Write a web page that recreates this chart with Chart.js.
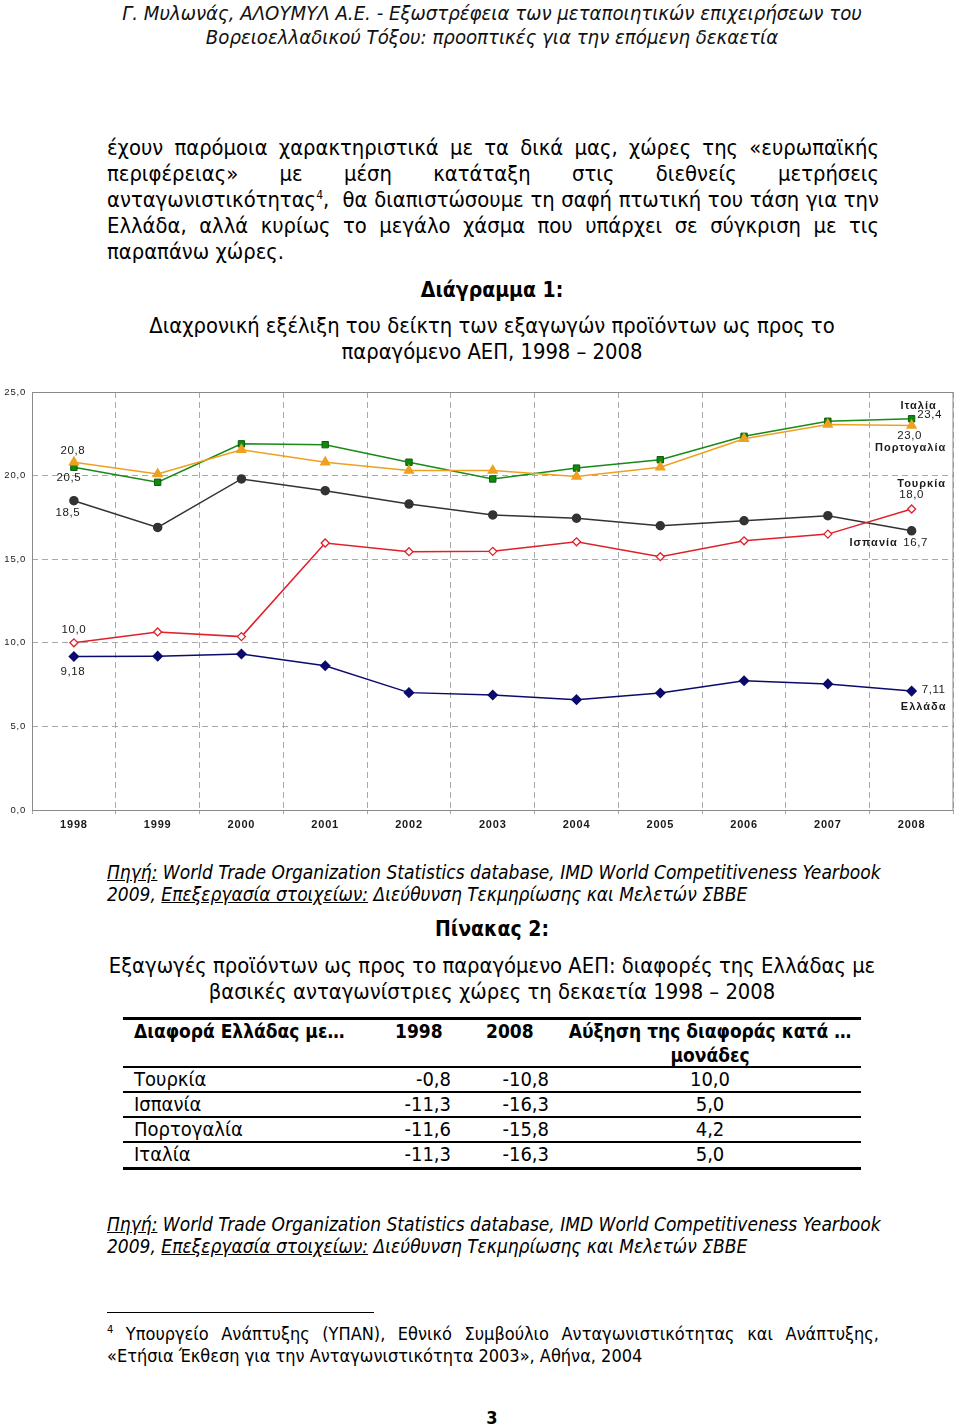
<!DOCTYPE html>
<html>
<head>
<meta charset="utf-8">
<script src="https://cdn.jsdelivr.net/npm/chart.js@4.4.0/dist/chart.umd.min.js"></script>
<style>
  html, body { margin:0; padding:0; background:#fff; }
  body { width:960px; height:1428px; position:relative; overflow:hidden;
         font-family:"DejaVu Sans Condensed","DejaVu Sans",sans-serif; color:#000; }
  .ab { position:absolute; white-space:nowrap; }
  .hdr { font-style:italic; font-size:20.2px; line-height:24px; color:#111; left:0; width:984px; text-align:center; }
  .p { left:107px; width:772px; font-size:21.8px; line-height:26px; }
  .j { text-align:justify; text-align-last:justify; }
  .c { left:0; width:984px; text-align:center; font-size:21.8px; line-height:26px; }
  .b { font-weight:bold; font-size:21px; }
  .src { left:107px; font-style:italic; font-size:19px; line-height:22px; }
  .u { text-decoration:underline; }
  .tl { position:absolute; background:#000; }
  .td { position:absolute; font-size:20px; line-height:24px; white-space:nowrap; }
  .th { font-weight:bold; font-size:19px; }
  .fn { left:107px; width:772px; font-size:18px; line-height:22px; }
  #chartBox { position:absolute; left:0; top:380px; width:960px; height:460px; }
</style>
</head>
<body>
<div class="ab hdr" style="top:1px;">Γ. Μυλωνάς, ΑΛΟΥΜΥΛ Α.Ε. - Εξωστρέφεια των μεταποιητικών επιχειρήσεων του</div>
<div class="ab hdr" style="top:25px;">Βορειοελλαδικού Τόξου: προοπτικές για την επόμενη δεκαετία</div>

<div class="ab p j" style="top:135px;">έχουν παρόμοια χαρακτηριστικά με τα δικά μας, χώρες της «ευρωπαϊκής</div>
<div class="ab p j" style="top:161px;">περιφέρειας» με μέση κατάταξη στις διεθνείς μετρήσεις</div>
<div class="ab p j" style="top:187px;">ανταγωνιστικότητας<sup style="font-size:12px;line-height:0">4</sup>,&nbsp; θα διαπιστώσουμε τη σαφή πτωτική του τάση για την</div>
<div class="ab p j" style="top:213px;">Ελλάδα, αλλά κυρίως το μεγάλο χάσμα που υπάρχει σε σύγκριση με τις</div>
<div class="ab p" style="top:239px;">παραπάνω χώρες.</div>

<div class="ab c b" style="top:277px;">Διάγραμμα 1:</div>
<div class="ab c" style="top:313px;">Διαχρονική εξέλιξη του δείκτη των εξαγωγών προϊόντων ως προς το</div>
<div class="ab c" style="top:339px;">παραγόμενο ΑΕΠ, 1998 – 2008</div>

<div id="chartBox"><canvas id="chart" width="960" height="460"></canvas></div>

<div class="ab src" style="top:861px;"><span class="u">Πηγή:</span> World Trade Organization Statistics database, IMD World Competitiveness Yearbook</div>
<div class="ab src" style="top:883px;">2009, <span class="u">Επεξεργασία στοιχείων:</span> Διεύθυνση Τεκμηρίωσης και Μελετών ΣΒΒΕ</div>

<div class="ab c b" style="top:916px;">Πίνακας 2:</div>
<div class="ab c" style="top:953px;">Εξαγωγές προϊόντων ως προς το παραγόμενο ΑΕΠ: διαφορές της Ελλάδας με</div>
<div class="ab c" style="top:979px;">βασικές ανταγωνίστριες χώρες τη δεκαετία 1998 – 2008</div>

<!-- table -->
<div class="tl" style="left:123px;top:1017px;width:738px;height:3px;"></div>
<div class="td th" style="left:134px;top:1019px;">Διαφορά Ελλάδας με…</div>
<div class="td th" style="left:395px;top:1019px;">1998</div>
<div class="td th" style="left:486px;top:1019px;">2008</div>
<div class="td th" style="left:565px;top:1019px;width:290px;text-align:center;">Αύξηση της διαφοράς κατά …</div>
<div class="td th" style="left:565px;top:1043px;width:290px;text-align:center;">μονάδες</div>
<div class="tl" style="left:123px;top:1066px;width:738px;height:2px;"></div>
<div id="tbody"></div>
<div class="tl" style="left:123px;top:1167px;width:738px;height:3px;"></div>

<div class="ab src" style="top:1213px;"><span class="u">Πηγή:</span> World Trade Organization Statistics database, IMD World Competitiveness Yearbook</div>
<div class="ab src" style="top:1235px;">2009, <span class="u">Επεξεργασία στοιχείων:</span> Διεύθυνση Τεκμηρίωσης και Μελετών ΣΒΒΕ</div>

<div class="tl" style="left:107px;top:1312px;width:267px;height:1px;"></div>
<div class="ab fn j" style="top:1323px;"><sup style="font-size:11px;line-height:0">4</sup> Υπουργείο Ανάπτυξης (ΥΠΑΝ), Εθνικό Συμβούλιο Ανταγωνιστικότητας και Ανάπτυξης,</div>
<div class="ab fn" style="top:1345px;">«Ετήσια Έκθεση για την Ανταγωνιστικότητα 2003», Αθήνα, 2004</div>

<div class="ab c b" style="top:1405px;font-size:18px;">3</div>

<script>
// ---------- chart data ----------
const years = ['1998','1999','2000','2001','2002','2003','2004','2005','2006','2007','2008'];
const italy    = [20.5, 19.6, 21.9, 21.85, 20.8, 19.8, 20.45, 20.95, 22.35, 23.25, 23.4];
const portugal = [20.8, 20.1, 21.55, 20.8, 20.3, 20.3, 19.95, 20.5, 22.2, 23.05, 23.0];
const spain    = [18.5, 16.9, 19.8, 19.1, 18.3, 17.65, 17.45, 17.0, 17.3, 17.6, 16.7];
const turkey   = [10.0, 10.65, 10.37, 15.97, 15.45, 15.47, 16.04, 15.15, 16.1, 16.5, 18.0];
const greece   = [9.18, 9.2, 9.33, 8.63, 7.02, 6.88, 6.6, 7.0, 7.73, 7.54, 7.11];
const yTickValues = [0, 5, 10, 15, 20, 25];

// ---------- table data ----------
const tableCountries = ['Τουρκία','Ισπανία','Πορτογαλία','Ιταλία'];
const diff1998 = ['-0,8','-11,3','-11,6','-11,3'];
const diff2008 = ['-10,8','-16,3','-15,8','-16,3'];
const diffIncrease = ['10,0','5,0','4,2','5,0'];

(function buildTable(){
  const tb = document.getElementById('tbody');
  const rowTops = [1067, 1092, 1117, 1142];
  let html = '';
  tableCountries.forEach((c, i) => {
    const t = rowTops[i];
    html += `<div class="td" style="left:134px;top:${t}px;">${c}</div>`;
    html += `<div class="td" style="left:380px;top:${t}px;width:71px;text-align:right;">${diff1998[i]}</div>`;
    html += `<div class="td" style="left:470px;top:${t}px;width:79px;text-align:right;">${diff2008[i]}</div>`;
    html += `<div class="td" style="left:565px;top:${t}px;width:290px;text-align:center;">${diffIncrease[i]}</div>`;
    if (i < tableCountries.length - 1)
      html += `<div class="tl" style="left:123px;top:${t+24}px;width:738px;height:2px;"></div>`;
  });
  tb.innerHTML = html;
})();

// ---------- labels next to points ----------
const fmt = v => v.toFixed(1).replace('.', ',');
const pointLabels = [
  {ds:3, i:0, dx:-1, dy:-11, text:'20,8'},
  {ds:4, i:0, dx:-5, dy:11, text:'20,5'},
  {ds:2, i:0, dx:-6, dy:12, text:'18,5'},
  {ds:1, i:0, dx:0, dy:-13, text:'10,0'},
  {ds:0, i:0, dx:-1, dy:15, text:'9,18'},
  {ds:4, i:10, dx:7, dy:-13, text:'Ιταλία', bold:true},
  {ds:4, i:10, dx:18, dy:-4, text:'23,4'},
  {ds:3, i:10, dx:-2, dy:10, text:'23,0'},
  {ds:3, i:10, dx:-1, dy:23, text:'Πορτογαλία', bold:true},
  {ds:1, i:10, dx:10, dy:-25, text:'Τουρκία', bold:true},
  {ds:1, i:10, dx:0, dy:-14, text:'18,0'},
  {ds:2, i:10, dx:-38, dy:12, text:'Ισπανία', bold:true},
  {ds:2, i:10, dx:4, dy:12, text:'16,7'},
  {ds:0, i:10, dx:22, dy:-1, text:'7,11'},
  {ds:0, i:10, dx:12, dy:16, text:'Ελλάδα', bold:true}
];

const labelPlugin = {
  id: 'pointLabels',
  afterDatasetsDraw(chart) {
    const ctx = chart.ctx;
    ctx.save();
    ctx.fillStyle = '#1a1a1a';
    ctx.textAlign = 'center';
    ctx.textBaseline = 'middle';
    pointLabels.forEach(l => {
      const pt = chart.getDatasetMeta(l.ds).data[l.i];
      ctx.font = (l.bold ? 'bold 11px' : '11.5px') + ' "Liberation Sans", Arial, sans-serif';
      ctx.letterSpacing = l.bold ? '1px' : '0.6px';
      ctx.fillText(l.text, pt.x + l.dx, pt.y + l.dy);
    });
    ctx.restore();
  }
};

const framePlugin = {
  id: 'frame',
  beforeDraw(chart) { chart.ctx.letterSpacing = '0.8px'; },
  beforeDatasetsDraw(chart) {
    const {ctx, chartArea:a} = chart;
    ctx.save();
    ctx.strokeStyle = '#8a8a8a';
    ctx.lineWidth = 1;
    ctx.strokeRect(a.left + 0.5, a.top + 0.5, a.right - a.left - 1, a.bottom - a.top);
    ctx.restore();
  }
};

Chart.defaults.font.family = '"Liberation Sans", Arial, sans-serif';
Chart.defaults.color = '#1a1a1a';

new Chart(document.getElementById('chart'), {
  type: 'line',
  data: {
    labels: years,
    datasets: [
      { label:'Ελλάδα', data:greece, borderColor:'#0b0b6e', backgroundColor:'#0b0b6e',
        pointStyle:'rectRot', pointRadius:4.5, borderWidth:1.5 },
      { label:'Τουρκία', data:turkey, borderColor:'#e0202a', backgroundColor:'#ffffff',
        pointBorderColor:'#e0202a', pointStyle:'rectRot', pointRadius:4, pointBorderWidth:1.3, borderWidth:1.5 },
      { label:'Ισπανία', data:spain, borderColor:'#333333', backgroundColor:'#333333',
        pointStyle:'circle', pointRadius:4, borderWidth:1.5 },
      { label:'Πορτογαλία', data:portugal, borderColor:'#f0a020', backgroundColor:'#f0a020',
        pointStyle:'triangle', pointRadius:5, borderWidth:1.5 },
      { label:'Ιταλία', data:italy, borderColor:'#178a17', backgroundColor:'#0f8a0f',
        pointBorderColor:'#0c5c0c', pointStyle:'rect', pointRadius:4.5, pointBorderWidth:1, borderWidth:1.5 }
    ]
  },
  options: {
    responsive: false,
    animation: false,
    events: [],
    layout: { padding: { left:0, right:3, top:12, bottom:0 } },
    plugins: { legend:{display:false}, tooltip:{enabled:false} },
    scales: {
      x: {
        offset: true,
        grid: { offset:true, color:'#a8a8a8', lineWidth:1, drawTicks:true, tickLength:4, tickColor:'#a8a8a8' },
        border: { display:false, dash:[6,4] },
        ticks: { padding:4, font:{ size:11, weight:'bold' }, color:'#1a1a1a', maxRotation:0 },
        afterFit(s){ s.height = 30; }
      },
      y: {
        min: 0, max: 25,
        afterBuildTicks(s){ s.ticks = yTickValues.map(v => ({value:v})); },
        grid: { color:'#a8a8a8', lineWidth:1, drawTicks:false },
        border: { display:false, dash:[6,4] },
        ticks: { padding:6, font:{ size:9.5 }, color:'#1a1a1a', callback: v => fmt(v) },
        afterFit(s){ s.width = 32; }
      }
    }
  },
  plugins: [framePlugin, labelPlugin]
});
</script>
</body>
</html>
